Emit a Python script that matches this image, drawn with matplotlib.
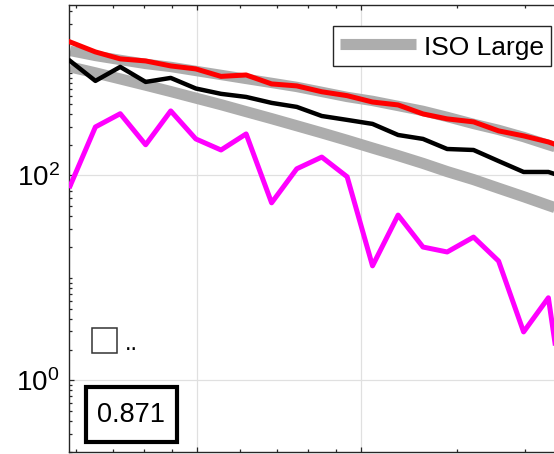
import matplotlib
matplotlib.use("Agg")
import matplotlib.pyplot as plt
from matplotlib.patches import Rectangle
from matplotlib.ticker import FixedLocator, FixedFormatter, NullFormatter

plt.rcParams['font.family'] = ['Liberation Sans', 'DejaVu Sans']
plt.rcParams['mathtext.fontset'] = 'custom'
plt.rcParams['mathtext.rm'] = 'Liberation Sans'

# band centres
x = [2.92, 3.25, 3.61, 4.02, 4.47, 4.97, 5.53, 6.15, 6.85, 7.62, 8.47,
     9.43, 10.5, 11.7, 13.0, 14.4, 16.1, 17.9, 19.9, 22.1, 24.6]

iso_upper = [1640, 1465, 1339, 1224, 1144, 1046, 956, 874, 799, 730, 653,
             583, 533, 476, 426, 372, 318, 278, 237, 198, 166]
iso_large = [1144, 1002, 874, 759, 658, 568, 490, 419, 358, 305, 260,
             220, 185, 156, 131, 109, 91, 75, 62, 51, 42]
red_vals = [2005, 1603, 1371, 1309, 1170, 1094, 925, 955, 781, 747, 655,
            600, 520, 487, 398, 356, 333, 272, 243, 212, 173]
black_vals = [1309, 836, 1145, 817, 894, 705, 625, 583, 510, 466, 380,
              348, 318, 248, 227, 181, 177, 138, 108, 108, 90]
magenta_vals = [79, 297, 400, 199, 426, 227, 177, 254, 54, 116, 151,
                97, 13.1, 41, 20, 17.9, 25, 14.6, 2.97, 6.4, 0.13]

score = '0.871'

W, H = 554, 454
fig = plt.figure(figsize=(W / 100, H / 100), dpi=100)
# axes runs off the right edge of the canvas
ax_l, ax_r, ax_t, ax_b = 69.3, 620.6, 5, 452
ax = fig.add_axes([ax_l / W, (H - ax_b) / H, (ax_r - ax_l) / W, (ax_b - ax_t) / H])
ax.set_xscale('log')
ax.set_yscale('log')

gray = '#adadad'
ax.plot(x, iso_upper, color=gray, lw=7.5, solid_capstyle='butt', zorder=2)
ax.plot(x, iso_large, color=gray, lw=8, solid_capstyle='butt', zorder=2, label='ISO Large')
ax.plot(x, red_vals, color='#ff0000', lw=3.6, zorder=3)
ax.plot(x, black_vals, color='black', lw=3.2, zorder=3)
ax.plot(x, magenta_vals, color='#ff00ff', lw=3.6, zorder=3)

ax.set_xlim(2.91, 30)
ax.set_ylim(0.2, 4600)

ax.xaxis.set_major_locator(FixedLocator([5, 10]))
ax.xaxis.set_minor_locator(FixedLocator([3, 3.5, 4, 4.5, 6, 7, 8, 9, 15, 20, 25]))
ax.xaxis.set_major_formatter(NullFormatter())
ax.xaxis.set_minor_formatter(NullFormatter())

ax.yaxis.set_major_locator(FixedLocator([1, 100]))
ax.yaxis.set_major_formatter(FixedFormatter([r'$\mathregular{10^{0}}$', r'$\mathregular{10^{2}}$']))
yminor = [m * 10.0 ** k for k in range(-1, 4) for m in range(1, 10)]
yminor = [v for v in yminor if v not in (1, 100) and 0.2 <= v <= 4600]
ax.yaxis.set_minor_locator(FixedLocator(yminor))
ax.yaxis.set_minor_formatter(NullFormatter())

ax.tick_params(which='both', direction='in', top=True, right=True,
               color='#262626', width=0.9, labelbottom=False)
ax.tick_params(which='major', length=3.6, labelsize=20, pad=7)
ax.tick_params(which='minor', length=2.2)

ax.grid(True, which='major', color='#e0e0e0', lw=0.9, zorder=0)
ax.set_axisbelow(True)
for s in ax.spines.values():
    s.set_color('#262626')
    s.set_linewidth(1.0)

leg = ax.legend(loc='upper left', bbox_to_anchor=(333 / W, 1 - 26 / H),
                bbox_transform=fig.transFigure, fontsize=19, frameon=True,
                fancybox=False, framealpha=1, edgecolor='#262626',
                handlelength=2.9, handleheight=1.15, handletextpad=0.3,
                borderpad=0.25, borderaxespad=0)
leg.get_frame().set_linewidth(1.0)

# small square with its label
tr = ax.transAxes
sq = Rectangle(((92 - ax_l) / (ax_r - ax_l), (ax_b - 353) / (ax_b - ax_t)),
               25 / (ax_r - ax_l), 25 / (ax_b - ax_t), transform=tr,
               facecolor='white', edgecolor='#333333', lw=1.1, zorder=5)
ax.add_patch(sq)
ax.text((125 - ax_l) / (ax_r - ax_l), (ax_b - 350) / (ax_b - ax_t), '..',
        transform=tr, fontsize=17, ha='left', va='baseline', zorder=5)

# score box
box = Rectangle(((86 - ax_l) / (ax_r - ax_l), (ax_b - 442) / (ax_b - ax_t)),
                91 / (ax_r - ax_l), 55 / (ax_b - ax_t), transform=tr,
                facecolor='white', edgecolor='black', lw=3.0, zorder=5)
ax.add_patch(box)
ax.text((131.5 - ax_l) / (ax_r - ax_l), (ax_b - 414.5) / (ax_b - ax_t), score,
        transform=tr, fontsize=19.5, ha='center', va='center', zorder=6)

fig.savefig('out.png', dpi=100)
